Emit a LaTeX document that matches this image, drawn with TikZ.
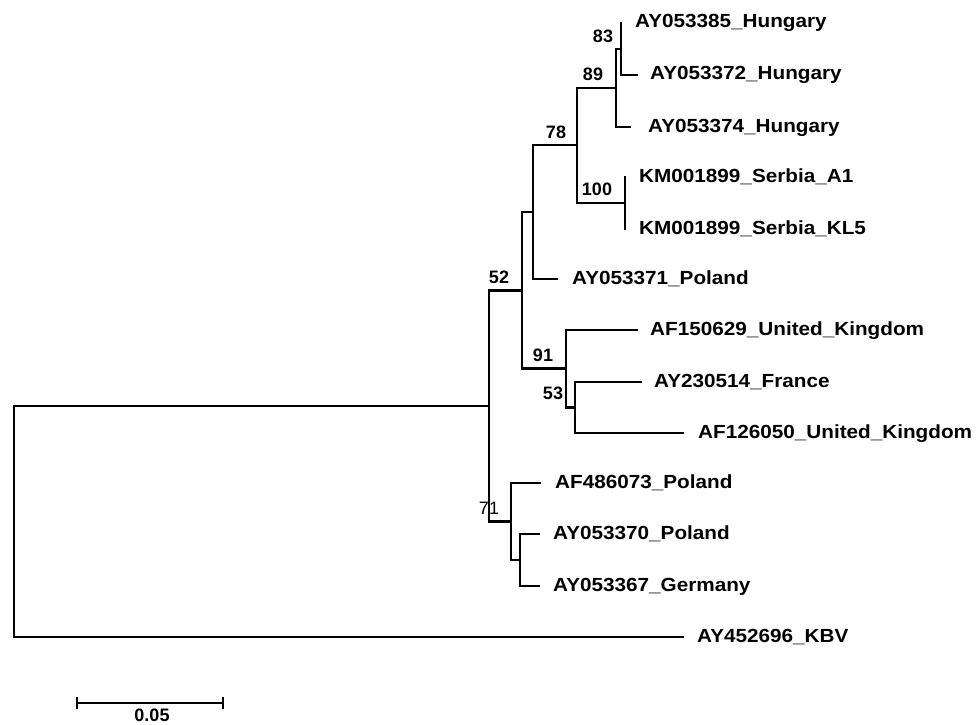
\documentclass[tikz,border=0pt]{standalone}
\usepackage{fontspec}
\setmainfont{Liberation Sans}
\newfontfamily\lblfont{Liberation Sans}[FakeStretch=1.09]
\tikzset{
  branch/.style={line width=2.2pt, line cap=rect, line join=miter},
  leaf/.style={anchor=base west, inner sep=0pt, font=\lblfont\bfseries\fontsize{19}{21}\selectfont},
  boot/.style={inner sep=0pt, font=\bfseries\fontsize{18}{19}\selectfont},
  bootthin/.style={inner sep=0pt, font=\fontsize{18}{19}\selectfont}
}
\begin{document}
\begin{tikzpicture}[x=1pt,y=-1pt]
\useasboundingbox (0,0) rectangle (980,725);
% internal nodes
\coordinate (root) at (14,521.5);
\coordinate (nD) at (489,406);
\coordinate (nB) at (522,290.5);
\coordinate (nA) at (533,212);
\coordinate (n78) at (577,145);
\coordinate (n89) at (616,88);
\coordinate (n83) at (621,49);
\coordinate (n100) at (625,203);
\coordinate (n91) at (566,368.5);
\coordinate (n53) at (575,407.5);
\coordinate (n71) at (511,521.5);
\coordinate (nC) at (520,560);
% tips
\coordinate (t1) at (621,23);
\coordinate (t2) at (637,75);
\coordinate (t3) at (630,127);
\coordinate (t4) at (625,177);
\coordinate (t5) at (625,229);
\coordinate (t6) at (557,279);
\coordinate (t7) at (637,330);
\coordinate (t8) at (641,382);
\coordinate (t9) at (683,433);
\coordinate (t10) at (540,483);
\coordinate (t11) at (539,534);
\coordinate (t12) at (539,586);
\coordinate (t13) at (683,637);
% branches
\draw[branch] (root) |- (nD);
\draw[branch] (root) |- (t13);
\draw[branch] (nD) |- (nB);
\draw[branch] (nD) |- (n71);
\draw[branch] (nB) |- (nA);
\draw[branch] (nB) |- (n91);
\draw[branch] (nA) |- (n78);
\draw[branch] (nA) |- (t6);
\draw[branch] (n78) |- (n89);
\draw[branch] (n78) |- (n100);
\draw[branch] (n89) |- (n83);
\draw[branch] (n89) |- (t3);
\draw[branch] (n83) |- (t1);
\draw[branch] (n83) |- (t2);
\draw[branch] (n100) |- (t4);
\draw[branch] (n100) |- (t5);
\draw[branch] (n91) |- (t7);
\draw[branch] (n91) |- (n53);
\draw[branch] (n53) |- (t8);
\draw[branch] (n53) |- (t9);
\draw[branch] (n71) |- (t10);
\draw[branch] (n71) |- (nC);
\draw[branch] (nC) |- (t11);
\draw[branch] (nC) |- (t12);
% leaf labels
\node[leaf] (l1) at (635,28) {AY053385\_Hungary};
\node[leaf] (l2) at (650,80) {AY053372\_Hungary};
\node[leaf] (l3) at (648,132) {AY053374\_Hungary};
\node[leaf] (l4) at (639,182) {KM001899\_Serbia\_A1};
\node[leaf] (l5) at (639,234) {KM001899\_Serbia\_KL5};
\node[leaf] (l6) at (572,284) {AY053371\_Poland};
\node[leaf] (l7) at (650,335) {AF150629\_United\_Kingdom};
\node[leaf] (l8) at (654,387) {AY230514\_France};
\node[leaf] (l9) at (698,438) {AF126050\_United\_Kingdom};
\node[leaf] (l10) at (555,488) {AF486073\_Poland};
\node[leaf] (l11) at (553,539) {AY053370\_Poland};
\node[leaf] (l12) at (553,591) {AY053367\_Germany};
\node[leaf] (l13) at (697,642) {AY452696\_KBV};
% bootstrap values
\node[boot] (b83) at (603,36) {83};
\node[boot] (b89) at (593,74) {89};
\node[boot] (b78) at (556,132) {78};
\node[boot] (b100) at (597,189) {100};
\node[boot] (b52) at (499,277) {52};
\node[boot] (b91) at (543,355) {91};
\node[boot] (b53) at (553,393) {53};
\node[bootthin] (b71) at (489,508) {71};
% scale bar
\coordinate (sbL) at (77,703);
\coordinate (sbR) at (223,703);
\draw[branch, line cap=butt] (sbL) -- (sbR);
\draw[branch, line cap=butt] ([yshift=-6pt]sbL) -- ([yshift=6pt]sbL);
\draw[branch, line cap=butt] ([yshift=-6pt]sbR) -- ([yshift=6pt]sbR);
\node[boot] (sblabel) at (152,715.5) {0.05};
\end{tikzpicture}
\end{document}
